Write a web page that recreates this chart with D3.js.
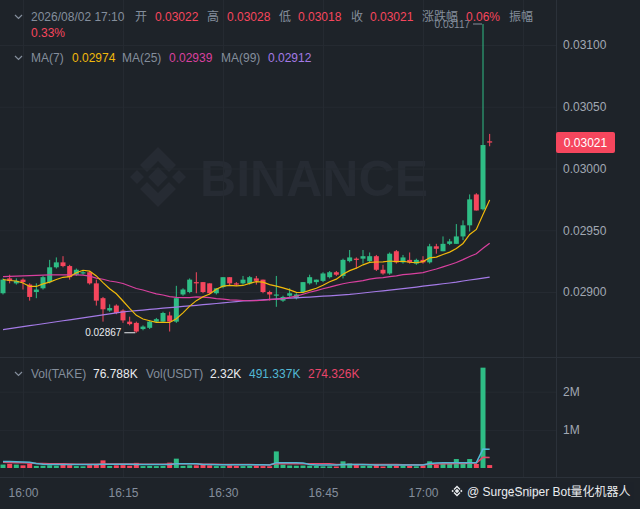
<!DOCTYPE html>
<html>
<head>
<meta charset="utf-8">
<script src="https://cdn.jsdelivr.net/npm/d3@7"></script>
<style>
html, body { margin: 0; padding: 0; background: #1e2329; }
svg { display: block; font-family: "Liberation Sans", Arial, "Noto Sans CJK SC", sans-serif; }
</style>
</head>
<body>
<div id="chart"></div>
<script>
// ---- data (1 minute candles) ----
const times = ["15:57","15:58","15:59",
  "16:00","16:01","16:02","16:03","16:04","16:05","16:06","16:07","16:08","16:09",
  "16:10","16:11","16:12","16:13","16:14","16:15","16:16","16:17","16:18","16:19",
  "16:20","16:21","16:22","16:23","16:24","16:25","16:26","16:27","16:28","16:29",
  "16:30","16:31","16:32","16:33","16:34","16:35","16:36","16:37","16:38","16:39",
  "16:40","16:41","16:42","16:43","16:44","16:45","16:46","16:47","16:48","16:49",
  "16:50","16:51","16:52","16:53","16:54","16:55","16:56","16:57","16:58","16:59",
  "17:00","17:01","17:02","17:03","17:04","17:05","17:06","17:07","17:08","17:09","17:10"];

const opens = [0.02899,0.02911,0.02907,0.02910,0.02906, 0.02900,0.02903,0.02908,0.02920,0.02924,
  0.02921,0.02914,0.02915,0.02916,0.02907, 0.02895,0.02885,0.02889,0.02885,0.02876,
  0.02875,0.02870,0.02871,0.02876,0.02876, 0.02881,0.02876,0.02898,0.02900,0.02908,
  0.02908,0.02907,0.02899,0.02904,0.02912, 0.02907,0.02907,0.02907,0.02911,0.02910,
  0.02900,0.02897,0.02893,0.02897,0.02895, 0.02900,0.02907,0.02908,0.02909,0.02912,
  0.02916,0.02913,0.02925,0.02927,0.02927, 0.02925,0.02929,0.02918,0.02915,0.02933,
  0.02924,0.02926,0.02923,0.02926,0.02924, 0.02937,0.02933,0.02939,0.02939,0.02945,
  0.02954,0.02979,0.02967,0.03022];

const highs = [0.02911,0.02914,0.02911,0.02911,0.02907, 0.02907,0.02913,0.02926,0.02928,0.02929,
  0.02922,0.02919,0.02917,0.02917,0.02910, 0.02896,0.02890,0.02890,0.02886,0.02880,
  0.02876,0.02873,0.02877,0.02879,0.02884, 0.02884,0.02905,0.02903,0.02911,0.02916,
  0.02908,0.02907,0.02903,0.02912,0.02912, 0.02908,0.02913,0.02913,0.02913,0.02910,
  0.02901,0.02913,0.02897,0.02903,0.02899, 0.02908,0.02914,0.02910,0.02916,0.02917,
  0.02917,0.02927,0.02934,0.02928,0.02934, 0.02932,0.02930,0.02922,0.02932,0.02934,
  0.02930,0.02932,0.02927,0.02929,0.02939, 0.02939,0.02945,0.02943,0.02955,0.02958,
  0.02979,0.02980,0.03117,0.03028];

const lows = [0.02898,0.02907,0.02906,0.02902,0.02893, 0.02895,0.02902,0.02907,0.02919,0.02920,
  0.02910,0.02913,0.02914,0.02906,0.02889, 0.02876,0.02884,0.02882,0.02875,0.02873,
  0.02867,0.02869,0.02870,0.02875,0.02875, 0.02868,0.02875,0.02897,0.02899,0.02899,
  0.02899,0.02898,0.02898,0.02903,0.02905, 0.02905,0.02906,0.02906,0.02906,0.02899,
  0.02893,0.02888,0.02892,0.02896,0.02894, 0.02899,0.02906,0.02906,0.02908,0.02911,
  0.02913,0.02911,0.02924,0.02919,0.02923, 0.02924,0.02917,0.02914,0.02914,0.02923,
  0.02923,0.02923,0.02922,0.02923,0.02923, 0.02931,0.02933,0.02938,0.02939,0.02942,
  0.02949,0.02966,0.02966,0.03018];

const closes = [0.02910,0.02909,0.02909,0.02908,0.02896, 0.02902,0.02912,0.02920,0.02924,0.02921,
  0.02912,0.02918,0.02916,0.02907,0.02893, 0.02886,0.02887,0.02883,0.02877,0.02874,
  0.02868,0.02872,0.02876,0.02878,0.02883, 0.02876,0.02895,0.02902,0.02910,0.02907,
  0.02900,0.02899,0.02903,0.02912,0.02907, 0.02906,0.02910,0.02912,0.02909,0.02900,
  0.02898,0.02898,0.02896,0.02899,0.02898, 0.02908,0.02912,0.02910,0.02915,0.02916,
  0.02914,0.02926,0.02928,0.02926,0.02929, 0.02929,0.02918,0.02915,0.02931,0.02924,
  0.02928,0.02924,0.02926,0.02924,0.02937, 0.02935,0.02939,0.02941,0.02945,0.02954,
  0.02975,0.02966,0.03019,0.03021];

const ma7 = [0.029101,0.029093,0.029089,0.029073,0.029045, 0.029045,0.029066,0.029080,0.029101,0.029119,
  0.029124,0.029156,0.029176,0.029169,0.029130, 0.029076,0.029027,0.028986,0.028927,0.028867,
  0.028811,0.028781,0.028767,0.028754,0.028754, 0.028753,0.028783,0.028831,0.028886,0.028930,
  0.028961,0.028984,0.029023,0.029047,0.029054, 0.029049,0.029053,0.029070,0.029084,0.029080,
  0.029060,0.029047,0.029033,0.029017,0.028997, 0.028996,0.029013,0.029030,0.029054,0.029083,
  0.029104,0.029144,0.029173,0.029193,0.029220, 0.029240,0.029243,0.029244,0.029251,0.029246,
  0.029249,0.029241,0.029237,0.029246,0.029277, 0.029283,0.029304,0.029323,0.029353,0.029393,
  0.029466,0.029507,0.029627,0.029744];

const ma25 = [0.029124,0.029126,0.029129,0.029131,0.029133, 0.029134,0.029136,0.029138,0.029138,0.029138,
  0.029138,0.029138,0.029136,0.029129,0.029113, 0.029103,0.029089,0.029081,0.029069,0.029049,
  0.029028,0.029016,0.029000,0.028985,0.028976, 0.028963,0.028957,0.028954,0.028955,0.028960,
  0.028959,0.028954,0.028947,0.028942,0.028936, 0.028934,0.028931,0.028929,0.028930,0.028933,
  0.028938,0.028942,0.028947,0.028956,0.028966, 0.028982,0.028998,0.029011,0.029026,0.029039,
  0.029054,0.029067,0.029077,0.029084,0.029092, 0.029104,0.029112,0.029116,0.029124,0.029131,
  0.029140,0.029145,0.029151,0.029157,0.029172, 0.029186,0.029203,0.029221,0.029239,0.029262,
  0.029288,0.029310,0.029354,0.029394];

const ma99 = [0.028695,0.028703,0.028711,0.028719,0.028727, 0.028735,0.028743,0.028751,0.028759,0.028767,
  0.028775,0.028783,0.028791,0.028799,0.028807, 0.028815,0.028823,0.028831,0.028839,0.028844,
  0.028849,0.028854,0.028859,0.028864,0.028869, 0.028873,0.028878,0.028883,0.028887,0.028892,
  0.028897,0.028902,0.028907,0.028912,0.028917, 0.028922,0.028927,0.028930,0.028933,0.028937,
  0.028940,0.028943,0.028946,0.028950,0.028953, 0.028956,0.028959,0.028963,0.028966,0.028969,
  0.028973,0.028976,0.028980,0.028986,0.028992, 0.028998,0.029004,0.029009,0.029015,0.029021,
  0.029027,0.029034,0.029040,0.029047,0.029053, 0.029060,0.029067,0.029073,0.029080,0.029089,
  0.029097,0.029105,0.029113,0.029121];

// volume in thousands
const volumeK = [90,110,90,70,115, 55,60,70,60,120, 75,50,45,75,90, 200,55,70,75,60,
  135,50,55,50,55, 140,245,55,70,70, 80,70,50,50,70, 55,50,55,60,50,
  45,435,87,65,60, 65,60,55,45,45, 40,175,120,87,60, 60,87,40,65,60,
  60,55,45,60,175, 85,120,105,235,120, 235,105,2630,76.788];

const volMa5K = [170,170,165,160,150, 120,100,90,90,90, 90,90,90,90,90, 100,100,100,100,100,
  95,95,90,90,90, 95,110,110,110,110, 90,90,85,85,85, 85,85,85,85,85,
  80,140,140,140,140, 130,90,80,80,80, 80,90,90,90,90, 85,80,80,80,80,
  80,80,80,80,120, 130,135,135,140,140, 140,140,495,491.337];

const volMa10K = [150,145,140,135,130, 120,115,110,110,110, 105,100,100,100,100, 105,105,105,105,105,
  105,100,100,100,100, 105,110,110,110,110, 100,100,100,95,95, 90,90,90,85,85,
  85,110,110,110,110, 110,110,110,110,110, 90,95,95,95,95, 90,90,90,90,90,
  85,85,85,85,100, 105,110,110,115,120, 125,130,280,274.326];

const priceTicks = [0.02900, 0.02950, 0.03000, 0.03050, 0.03100];
const volTicksK = [1000, 2000];
const timeTicks = ["16:00","16:15","16:30","16:45","17:00","17:15"];

const headerDate = "2026/08/02 17:10";
const changePct = "0.06%";
const amplitudePct = "0.33%";
const volUsdt = "2.32K";

// ---- setup ----
const W = 640, H = 509;
const plotRight = 556, mainBottom = 357, volBottom = 477;
const bg = "#1e2329", grid = "#252a31", sep = "#2b3139";
const grey = "#848e9c", light = "#eaecef";
const up = "#2ebd85", down = "#f6465d";
const c7 = "#f0b90b", c25 = "#d9409f", c99 = "#a47ae6";
const cVol5 = "#52b8d4", cVol10 = "#e8456a";

const parseT = d3.timeParse("%H:%M");
const data = times.map((t, i) => ({
  t: parseT(t), o: opens[i], h: highs[i], l: lows[i], c: closes[i],
  v: volumeK[i], m7: ma7[i], m25: ma25[i], m99: ma99[i], v5: volMa5K[i], v10: volMa10K[i]
}));
const last = data[data.length - 1];

const svg = d3.select("#chart").append("svg").attr("width", W).attr("height", H);
svg.append("rect").attr("width", W).attr("height", H).attr("fill", bg);

const x = d3.scaleTime().domain([parseT("16:00"), parseT("17:00")]).range([23, 423]);
const y = d3.scaleLinear().domain([0.029, 0.031]).range([292, 45]);
const vy = d3.scaleLinear().domain([0, 2000]).range([468, 391.7]);

const defs = svg.append("defs");
defs.append("clipPath").attr("id", "mainClip").append("rect")
  .attr("x", 0).attr("y", 0).attr("width", plotRight).attr("height", mainBottom);
defs.append("clipPath").attr("id", "volClip").append("rect")
  .attr("x", 0).attr("y", mainBottom).attr("width", plotRight).attr("height", volBottom - mainBottom);

// ---- watermark ----
const wm = svg.append("g").attr("fill", "#262b33");
const lg = wm.append("g").attr("transform", "translate(158,177)");
lg.append("rect").attr("x", -7).attr("y", -7).attr("width", 14).attr("height", 14).attr("transform", "rotate(45)");
lg.append("rect").attr("x", -5).attr("y", -5).attr("width", 10).attr("height", 10).attr("transform", "translate(-21,0) rotate(45)");
lg.append("rect").attr("x", -5).attr("y", -5).attr("width", 10).attr("height", 10).attr("transform", "translate(21,0) rotate(45)");
lg.append("path").attr("d", "M0,-30 L18,-12 L11,-5 L0,-16 L-11,-5 L-18,-12 Z");
lg.append("path").attr("d", "M0,30 L18,12 L11,5 L0,16 L-11,5 L-18,12 Z");
wm.append("text").attr("x", 200).attr("y", 196).attr("font-size", 50).attr("font-weight", "bold")
  .attr("textLength", 228).text("BINANCE");

// ---- grids ----
svg.append("g").attr("transform", `translate(${plotRight},0)`)
  .call(d3.axisLeft(y).tickValues(priceTicks).tickSize(plotRight).tickFormat(""))
  .call(g => g.select(".domain").remove())
  .call(g => g.selectAll("line").attr("stroke", grid));

svg.append("g").attr("transform", `translate(${plotRight},0)`)
  .call(d3.axisLeft(vy).tickValues(volTicksK).tickSize(plotRight).tickFormat(""))
  .call(g => g.select(".domain").remove())
  .call(g => g.selectAll("line").attr("stroke", grid));

svg.append("g").attr("transform", `translate(0,${volBottom})`)
  .call(d3.axisTop(x).tickValues(timeTicks.map(parseT)).tickSize(volBottom).tickFormat(""))
  .call(g => g.select(".domain").remove())
  .call(g => g.selectAll("line").attr("stroke", grid));

// separators
svg.append("line").attr("x1", 0).attr("x2", W).attr("y1", mainBottom + 0.5).attr("y2", mainBottom + 0.5).attr("stroke", sep);
svg.append("line").attr("x1", 0).attr("x2", W).attr("y1", volBottom + 0.5).attr("y2", volBottom + 0.5).attr("stroke", sep);
svg.append("line").attr("x1", plotRight + 0.5).attr("x2", plotRight + 0.5).attr("y1", 0).attr("y2", volBottom).attr("stroke", sep);

// ---- candles ----
const bw = 5;
const main = svg.append("g").attr("clip-path", "url(#mainClip)");

main.selectAll(".wick").data(data).join("line").attr("class", "wick")
  .attr("x1", d => x(d.t)).attr("x2", d => x(d.t))
  .attr("y1", d => y(d.h)).attr("y2", d => y(d.l))
  .attr("stroke", d => d.c >= d.o ? up : down).attr("stroke-width", 1);

main.selectAll(".body").data(data).join("rect").attr("class", "body")
  .attr("x", d => x(d.t) - bw / 2).attr("width", bw)
  .attr("y", d => y(Math.max(d.o, d.c)))
  .attr("height", d => Math.max(1, Math.abs(y(d.o) - y(d.c))))
  .attr("fill", d => d.c >= d.o ? up : down);

const maLine = key => d3.line().x(d => x(d.t)).y(d => y(d[key]));
main.append("path").datum(data).attr("d", maLine("m99")).attr("fill", "none").attr("stroke", c99).attr("stroke-width", 1.2);
main.append("path").datum(data).attr("d", maLine("m25")).attr("fill", "none").attr("stroke", c25).attr("stroke-width", 1.2);
main.append("path").datum(data).attr("d", maLine("m7")).attr("fill", "none").attr("stroke", c7).attr("stroke-width", 1.2);

// high / low markers
const fmt5 = d3.format(".5f");
const hi = data[d3.maxIndex(data, d => d.h)];
const lo = data[d3.minIndex(data, d => d.l)];
svg.append("text").attr("x", x(hi.t) - 13).attr("y", y(hi.h) + 3.5).attr("text-anchor", "end")
  .attr("font-size", 10).attr("fill", grey).text(fmt5(hi.h));
svg.append("line").attr("x1", x(hi.t) - 10).attr("x2", x(hi.t) - 1).attr("y1", y(hi.h)).attr("y2", y(hi.h)).attr("stroke", grey);
svg.append("text").attr("x", x(lo.t) - 15).attr("y", y(lo.l) + 3.5).attr("text-anchor", "end")
  .attr("font-size", 10).attr("fill", light).text(fmt5(lo.l));
svg.append("line").attr("x1", x(lo.t) - 12).attr("x2", x(lo.t) - 1).attr("y1", y(lo.l)).attr("y2", y(lo.l)).attr("stroke", light);

// ---- volume ----
const vol = svg.append("g").attr("clip-path", "url(#volClip)");
vol.selectAll(".vbar").data(data).join("rect").attr("class", "vbar")
  .attr("x", d => x(d.t) - bw / 2).attr("width", bw)
  .attr("y", d => vy(d.v)).attr("height", d => vy(0) - vy(d.v))
  .attr("fill", d => d.c >= d.o ? up : down);

const vLine = key => d3.line().x(d => x(d.t)).y(d => vy(d[key]));
vol.append("path").datum(data).attr("d", vLine("v10")).attr("fill", "none").attr("stroke", cVol10).attr("stroke-width", 1.5);
vol.append("path").datum(data).attr("d", vLine("v5")).attr("fill", "none").attr("stroke", cVol5).attr("stroke-width", 1.5);

// ---- axes ----
svg.append("g").attr("transform", `translate(${plotRight},0)`)
  .call(d3.axisRight(y).tickValues(priceTicks).tickSize(0).tickPadding(7).tickFormat(fmt5))
  .call(g => g.select(".domain").remove())
  .call(g => g.selectAll("text").attr("fill", "#a1a8b3").attr("font-size", 12).attr("font-family", null));

svg.append("g").attr("transform", `translate(${plotRight},0)`)
  .call(d3.axisRight(vy).tickValues(volTicksK).tickSize(0).tickPadding(7).tickFormat(d => d / 1000 + "M"))
  .call(g => g.select(".domain").remove())
  .call(g => g.selectAll("text").attr("fill", "#a1a8b3").attr("font-size", 12).attr("font-family", null));

svg.append("g").attr("transform", `translate(0,${volBottom})`)
  .call(d3.axisBottom(x).tickValues(timeTicks.map(parseT)).tickSize(0).tickPadding(11).tickFormat(d3.timeFormat("%H:%M")))
  .call(g => g.select(".domain").remove())
  .call(g => g.selectAll("text").attr("fill", grey).attr("font-size", 12).attr("font-family", null));

// last price tag
const tagY = y(last.c);
svg.append("rect").attr("x", plotRight).attr("y", tagY - 10.5).attr("width", 59).attr("height", 21).attr("rx", 2).attr("fill", down);
svg.append("text").attr("x", plotRight + 29.5).attr("y", tagY + 4).attr("text-anchor", "middle")
  .attr("font-size", 12).attr("fill", "#ffffff").text(fmt5(last.c));

// ---- legends ----
function chevron(cy) {
  svg.append("path").attr("d", `M15,${cy - 2} L18.5,${cy + 1.5} L22,${cy - 2}`)
    .attr("fill", "none").attr("stroke", grey).attr("stroke-width", 1.2);
}
function label(items, cy) {
  items.forEach(([tx, str, col]) => {
    svg.append("text").attr("x", tx).attr("y", cy + 4).attr("font-size", 12).attr("fill", col).text(str);
  });
}

chevron(17);
label([
  [31, headerDate, grey], [135, "开", grey], [155, fmt5(last.o), down],
  [207, "高", grey], [227, fmt5(last.h), down], [279, "低", grey], [298, fmt5(last.l), down],
  [351, "收", grey], [370, fmt5(last.c), down], [422, "涨跌幅", grey], [466, changePct, down],
  [509, "振幅", grey]
], 17);
label([[31, amplitudePct, down]], 33);

chevron(58);
label([
  [31, "MA(7)", grey], [72, fmt5(last.m7), c7],
  [122, "MA(25)", grey], [169, fmt5(last.m25), c25],
  [221, "MA(99)", grey], [268, fmt5(last.m99), c99]
], 58);

const fmtK = d => d3.format(".3f")(d) + "K";
chevron(374);
label([
  [31, "Vol(TAKE)", grey], [93, fmtK(last.v), light],
  [146, "Vol(USDT)", grey], [210, volUsdt, light],
  [249, fmtK(last.v5), cVol5], [308, fmtK(last.v10), cVol10]
], 374);

// bottom watermark
svg.append("rect").attr("x", 450).attr("y", 482).attr("width", 184).attr("height", 18).attr("fill", bg).attr("opacity", 0.55);
const sm = svg.append("g").attr("transform", "translate(457,491)").attr("fill", light);
sm.append("rect").attr("x", -1.6).attr("y", -1.6).attr("width", 3.2).attr("height", 3.2).attr("transform", "rotate(45)");
sm.append("path").attr("d", "M0,-5.5 L3.5,-2 L2.5,-1 L0,-3.5 L-2.5,-1 L-3.5,-2 Z M0,5.5 L3.5,2 L2.5,1 L0,3.5 L-2.5,1 L-3.5,2 Z M-5.5,0 L-4.3,-1.2 L-3.1,0 L-4.3,1.2 Z M5.5,0 L4.3,-1.2 L3.1,0 L4.3,1.2 Z");
svg.append("text").attr("x", 467).attr("y", 495.5).attr("font-size", 12).attr("fill", light).text("@ SurgeSniper Bot量化机器人");
</script>
</body>
</html>
